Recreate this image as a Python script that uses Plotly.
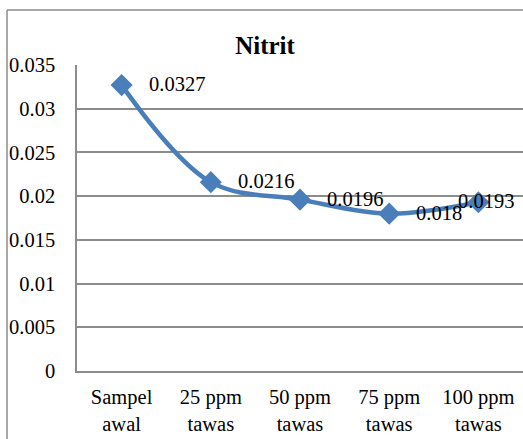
import plotly.graph_objects as go

categories = ["Sampel<br>awal", "25 ppm<br>tawas", "50 ppm<br>tawas", "75 ppm<br>tawas", "100 ppm<br>tawas"]
values = [0.0327, 0.0216, 0.0196, 0.018, 0.0193]
value_labels = ["0.0327", "0.0216", "0.0196", "0.018", "0.0193"]
y_ticks = [0, 0.005, 0.01, 0.015, 0.02, 0.025, 0.03, 0.035]
y_tick_labels = ["0", "0.005", "0.01", "0.015", "0.02", "0.025", "0.03", "0.035"]

W, H = 523, 439
ML, MR, MT, MB = 77, 0, 65, 68
FONT = "Liberation Serif, Times New Roman, serif"
BLUE = "#4a7ebb"
GRID = "#8c8c8c"
FS = 20.5

fig = go.Figure()
fig.add_trace(go.Scatter(
    x=list(range(len(categories))), y=values,
    mode="lines+markers",
    line=dict(color=BLUE, width=4.5, shape="spline", smoothing=1.0),
    marker=dict(symbol="diamond", size=17, color=BLUE, line=dict(width=0)),
    showlegend=False, hoverinfo="skip",
))

n = len(values)
for i, (v, t) in enumerate(zip(values, value_labels)):
    last = i == n - 1
    # the last label is pushed back inside the chart, as in the reference
    fig.add_annotation(x=i, y=v, text=t, showarrow=False,
                       xanchor="right" if last else "left",
                       yanchor="middle", xshift=38 if last else 25, yshift=1,
                       font=dict(family=FONT, size=FS, color="black"))

pw = W - ML - MR
ph = H - MT - MB
# outer chart frame (left and top edges visible)
fx0 = (7 - ML) / pw
fy_top = 1 + (MT - 10) / ph
fy_bot = -(MB + 5) / ph
fig.add_shape(type="line", xref="paper", yref="paper", x0=fx0, x1=1.05, y0=fy_top, y1=fy_top,
              line=dict(color=GRID, width=1.5))
fig.add_shape(type="line", xref="paper", yref="paper", x0=fx0, x1=fx0, y0=fy_top, y1=fy_bot,
              line=dict(color=GRID, width=1.5))

fig.update_layout(
    width=W, height=H,
    margin=dict(l=ML, r=MR, t=MT, b=MB, pad=0),
    paper_bgcolor="white", plot_bgcolor="white",
    font=dict(family=FONT, size=FS, color="black"),
    title=dict(text="<b>Nitrit</b>", x=265 / W, xanchor="center", y=1 - 45 / H, yanchor="middle",
               font=dict(family=FONT, size=25, color="black")),
    xaxis=dict(range=[-0.5, 4.5], tickmode="array", tickvals=list(range(len(categories))),
               ticktext=categories, showgrid=False, zeroline=False,
               showline=True, linecolor=GRID, linewidth=1.5,
               ticks="outside", ticklen=7, tickcolor="rgba(0,0,0,0)",
               tickfont=dict(family=FONT, size=FS), fixedrange=True),
    yaxis=dict(range=[0, 0.035], tickmode="array", tickvals=y_ticks, ticktext=y_tick_labels,
               showgrid=True, gridcolor=GRID, gridwidth=1.5, zeroline=False,
               showline=True, linecolor=GRID, linewidth=1.5,
               ticks="outside", ticklen=16, tickcolor="rgba(0,0,0,0)",
               tickfont=dict(family=FONT, size=FS), fixedrange=True),
)

fig.write_html("out.html")
